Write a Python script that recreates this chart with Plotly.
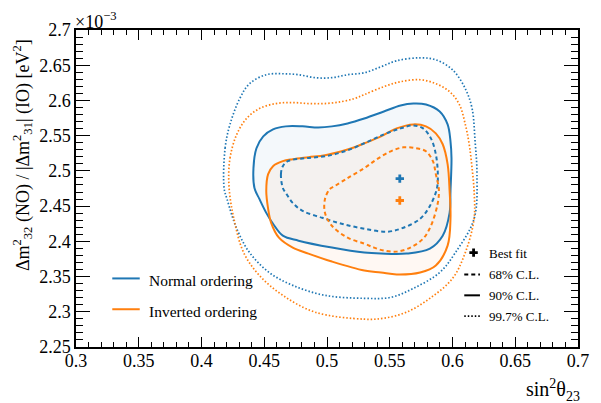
import plotly.graph_objects as go

# ---- data (sin^2 theta23, Delta m^2 in units of 1e-3 eV^2) ----
no_bf_x = [0.558]
no_bf_y = [2.489]
io_bf_x = [0.558]
io_bf_y = [2.458]

# Normal ordering, 68% C.L.
no68_x = [0.4648, 0.4633, 0.4648, 0.4688, 0.4828, 0.4984, 0.5141, 0.5297, 0.5453, 0.5586,
          0.5688, 0.5766, 0.5828, 0.5867, 0.5883, 0.5875, 0.5820, 0.5742, 0.5609, 0.5477,
          0.5297, 0.5117, 0.4961, 0.4805, 0.4727, 0.4672]
no68_y = [2.4757, 2.4954, 2.5067, 2.5138, 2.5180, 2.5208, 2.5278, 2.5392, 2.5519, 2.5603,
          2.5646, 2.5603, 2.5462, 2.5237, 2.4954, 2.4743, 2.4503, 2.4320, 2.4193, 2.4136,
          2.4179, 2.4249, 2.4334, 2.4433, 2.4545, 2.4686]

# Normal ordering, 90% C.L.
no90_x = [0.4422, 0.4414, 0.4438, 0.4492, 0.4570, 0.4672, 0.4805, 0.4930, 0.5039, 0.5164,
          0.5297, 0.5453, 0.5586, 0.5688, 0.5789, 0.5898, 0.5961, 0.5984, 0.5992, 0.5984,
          0.5977, 0.5922, 0.5820, 0.5633, 0.5430, 0.5297, 0.5039, 0.4773, 0.4648, 0.4570,
          0.4516, 0.4461]
no90_y = [2.4757, 2.5039, 2.5321, 2.5490, 2.5589, 2.5632, 2.5632, 2.5617, 2.5632, 2.5674,
          2.5744, 2.5843, 2.5928, 2.5956, 2.5942, 2.5843, 2.5660, 2.5420, 2.5180, 2.4715,
          2.4404, 2.4080, 2.3897, 2.3826, 2.3826, 2.3840, 2.3911, 2.4009, 2.4080, 2.4249,
          2.4404, 2.4602]

# Normal ordering, 99.7% C.L.
no997_x = [0.4180, 0.4188, 0.4227, 0.4305, 0.4383, 0.4516, 0.4648, 0.4773, 0.4906, 0.5039,
           0.5164, 0.5297, 0.5430, 0.5555, 0.5742, 0.5867, 0.6000, 0.6102, 0.6156, 0.6180,
           0.6195, 0.6172, 0.6023, 0.5898, 0.5688, 0.5508, 0.5297, 0.4984, 0.4727, 0.4539,
           0.4383, 0.4281, 0.4203]
no997_y = [2.4757, 2.5321, 2.5660, 2.6027, 2.6238, 2.6365, 2.6379, 2.6365, 2.6323, 2.6323,
           2.6365, 2.6393, 2.6478, 2.6563, 2.6605, 2.6577, 2.6436, 2.6168, 2.5885, 2.5420,
           2.4954, 2.4320, 2.3840, 2.3558, 2.3332, 2.3205, 2.3191, 2.3233, 2.3375, 2.3558,
           2.3840, 2.4179, 2.4602]

# Inverted ordering, 68% C.L.
io68_x = [0.5063, 0.5164, 0.5297, 0.5398, 0.5508, 0.5609, 0.5711, 0.5789, 0.5844, 0.5867,
          0.5891, 0.5883, 0.5828, 0.5766, 0.5664, 0.5555, 0.5453, 0.5375, 0.5297, 0.5164,
          0.5039, 0.4984, 0.4984, 0.5023]
io68_y = [2.4785, 2.4898, 2.5039, 2.5166, 2.5278, 2.5335, 2.5321, 2.5278, 2.5138, 2.4954,
          2.4743, 2.4545, 2.4221, 2.4038, 2.3911, 2.3854, 2.3868, 2.3911, 2.3967, 2.4052,
          2.4221, 2.4404, 2.4602, 2.4743]

# Inverted ordering, 90% C.L.
io90_x = [0.4516, 0.4531, 0.4570, 0.4648, 0.4727, 0.4852, 0.4984, 0.5117, 0.5219, 0.5297,
          0.5430, 0.5555, 0.5688, 0.5789, 0.5867, 0.5922, 0.5961, 0.5977, 0.5984, 0.5961,
          0.5867, 0.5742, 0.5555, 0.5430, 0.5297, 0.5039, 0.4852, 0.4727, 0.4617, 0.4555,
          0.4531]
io90_y = [2.4715, 2.4954, 2.5067, 2.5138, 2.5166, 2.5194, 2.5222, 2.5278, 2.5335, 2.5392,
          2.5490, 2.5603, 2.5660, 2.5632, 2.5533, 2.5378, 2.5096, 2.4715, 2.4320, 2.3939,
          2.3657, 2.3558, 2.3530, 2.3558, 2.3586, 2.3713, 2.3826, 2.3911, 2.4052, 2.4263,
          2.4461]

# Inverted ordering, 99.7% C.L.
io997_x = [0.4219, 0.4227, 0.4281, 0.4359, 0.4461, 0.4594, 0.4727, 0.4852, 0.4984, 0.5117,
           0.5219, 0.5297, 0.5453, 0.5586, 0.5742, 0.5867, 0.5977, 0.6055, 0.6102, 0.6133,
           0.6156, 0.6172, 0.6172, 0.6102, 0.6000, 0.5820, 0.5633, 0.5453, 0.5297, 0.4906,
           0.4648, 0.4461, 0.4336, 0.4258]
io997_y = [2.4785, 2.5180, 2.5519, 2.5744, 2.5885, 2.5956, 2.5970, 2.5956, 2.5956, 2.5984,
           2.6027, 2.6083, 2.6196, 2.6266, 2.6294, 2.6238, 2.6125, 2.5942, 2.5660, 2.5378,
           2.5039, 2.4715, 2.4320, 2.3840, 2.3473, 2.3191, 2.2994, 2.2909, 2.2895, 2.2994,
           2.3233, 2.3516, 2.3840, 2.4320]

series_labels = ["Normal ordering", "Inverted ordering"]
cl_labels = ["Best fit", "68% C.L.", "90% C.L.", "99.7% C.L."]
x_ticks = [0.3, 0.35, 0.4, 0.45, 0.5, 0.55, 0.6, 0.65, 0.7]
y_ticks = [2.25, 2.3, 2.35, 2.4, 2.45, 2.5, 2.55, 2.6, 2.65, 2.7]

BLUE = "#1f77b4"
ORANGE = "#ff7f0e"
FONT = "'Liberation Serif', 'Times New Roman', Times, 'DejaVu Serif', serif"
DOT = "1.5px,2px"
DASH = "4px,3px"


def closed(a):
    return list(a) + [a[0]]


fig = go.Figure()

# fills (90% regions)
fig.add_trace(go.Scatter(x=closed(no90_x), y=closed(no90_y), mode="lines", fill="toself",
                         fillcolor="rgba(31,119,180,0.05)", line=dict(width=0, shape="spline"),
                         hoverinfo="skip", showlegend=False))
fig.add_trace(go.Scatter(x=closed(io90_x), y=closed(io90_y), mode="lines", fill="toself",
                         fillcolor="rgba(255,127,14,0.05)", line=dict(width=0, shape="spline"),
                         hoverinfo="skip", showlegend=False))

contours = [
    (no997_x, no997_y, BLUE, DOT, 1.7),
    (io997_x, io997_y, ORANGE, DOT, 1.7),
    (no90_x, no90_y, BLUE, "solid", 2),
    (io90_x, io90_y, ORANGE, "solid", 2),
    (no68_x, no68_y, BLUE, DASH, 2),
    (io68_x, io68_y, ORANGE, DASH, 2),
]
for cx, cy, col, dash, w in contours:
    fig.add_trace(go.Scatter(x=closed(cx), y=closed(cy), mode="lines",
                             line=dict(color=col, width=w, dash=dash, shape="spline", smoothing=1.0),
                             hoverinfo="skip", showlegend=False))

fig.add_trace(go.Scatter(x=no_bf_x, y=no_bf_y, mode="markers",
                         marker=dict(symbol="cross", size=7, color=BLUE), showlegend=False))
fig.add_trace(go.Scatter(x=io_bf_x, y=io_bf_y, mode="markers",
                         marker=dict(symbol="cross", size=7, color=ORANGE), showlegend=False))

# ---- legend drawn on an overlay axis (0..1 in plot area) ----
def px(p):
    return (p - 76) / 512.0


def py(p):
    return (347 - p) / 319.0


legend_items = [
    (series_labels[0], BLUE, "solid", 2, 278.0, 280.0),
    (series_labels[1], ORANGE, "solid", 2, 309.0, 311.0),
]
for lab, col, dash, w, ly, ty in legend_items:
    fig.add_trace(go.Scatter(x=[px(113), px(141)], y=[py(ly), py(ly)], mode="lines",
                             xaxis="x2", yaxis="y2", line=dict(color=col, width=w, dash=dash),
                             hoverinfo="skip", showlegend=False))
    fig.add_annotation(x=px(148), y=py(ty), xref="x2", yref="y2", text=lab, showarrow=False,
                       xanchor="left", yanchor="middle",
                       font=dict(family=FONT, size=15.5, color="black"))

fig.add_trace(go.Scatter(x=[px(481.5)], y=[py(252)], mode="markers", xaxis="x2", yaxis="y2",
                         marker=dict(symbol="cross", size=7, color="black"),
                         hoverinfo="skip", showlegend=False))
cl_rows = [(DASH, 2, 274.0), ("solid", 2, 295.0), (DOT, 1.7, 316.0)]
for dash, w, ly in cl_rows:
    fig.add_trace(go.Scatter(x=[px(472), px(488)], y=[py(ly), py(ly)], mode="lines",
                             xaxis="x2", yaxis="y2", line=dict(color="black", width=w, dash=dash),
                             hoverinfo="skip", showlegend=False))
for lab, ty in zip(cl_labels, [252.5, 274.5, 295.5, 316.5]):
    fig.add_annotation(x=px(495), y=py(ty), xref="x2", yref="y2", text=lab, showarrow=False,
                       xanchor="left", yanchor="middle",
                       font=dict(family=FONT, size=13, color="black"))

# axis titles
fig.add_annotation(x=1.0, y=-0.085, xref="paper", yref="paper", xanchor="right", yanchor="top",
                   xshift=4, text="sin<sup>2</sup>θ<sub>23</sub>", showarrow=False,
                   font=dict(family=FONT, size=20, color="black"))
fig.add_annotation(x=(21 - 76) / 512.0, y=1.0, xref="paper", yref="paper", xanchor="center",
                   yanchor="top", textangle=-90, yshift=-7,
                   text="Δm<sup>2</sup><sub>32</sub> (NO) / |Δm<sup>2</sup><sub>31</sub>| (IO) [eV<sup>2</sup>]",
                   showarrow=False, font=dict(family=FONT, size=18, color="black"))
fig.add_annotation(x=0.0, y=1.0, xref="paper", yref="paper", xanchor="left", yanchor="bottom",
                   xshift=-3, yshift=-4, text="×10<sup>−3</sup>", showarrow=False,
                   font=dict(family=FONT, size=18, color="black"))

axis_common = dict(showgrid=False, zeroline=False, showline=True, linecolor="black", linewidth=1.5,
                   mirror="ticks", ticks="inside", tickcolor="black", tickwidth=1.2,
                   tickfont=dict(family=FONT, size=18, color="black"))

# the page body adds an 8px offset; the figure is sized so the plot lands where the reference has it
fig.update_layout(
    width=593, height=395,
    margin=dict(l=68, r=13, t=20, b=56),
    font=dict(family=FONT, color="black"),
    plot_bgcolor="white", paper_bgcolor="white",
    xaxis=dict(range=[0.3, 0.7], tickvals=x_ticks, ticktext=[f"{v:g}" for v in x_ticks],
               ticklen=10, ticklabelstandoff=-3,
               minor=dict(dtick=0.01, ticklen=5, ticks="inside", tickcolor="black",
                          tickwidth=1.2, showgrid=False),
               **axis_common),
    yaxis=dict(range=[2.25, 2.7], tickvals=y_ticks, ticktext=[f"{v:g}" for v in y_ticks],
               ticklen=14, minor=dict(dtick=0.01, ticklen=7, ticks="inside", tickcolor="black",
                                      tickwidth=1.2, showgrid=False),
               **axis_common),
    xaxis2=dict(range=[0, 1], overlaying="x", visible=False),
    yaxis2=dict(range=[0, 1], overlaying="y", visible=False),
    showlegend=False,
)

fig.write_html("out.html")
